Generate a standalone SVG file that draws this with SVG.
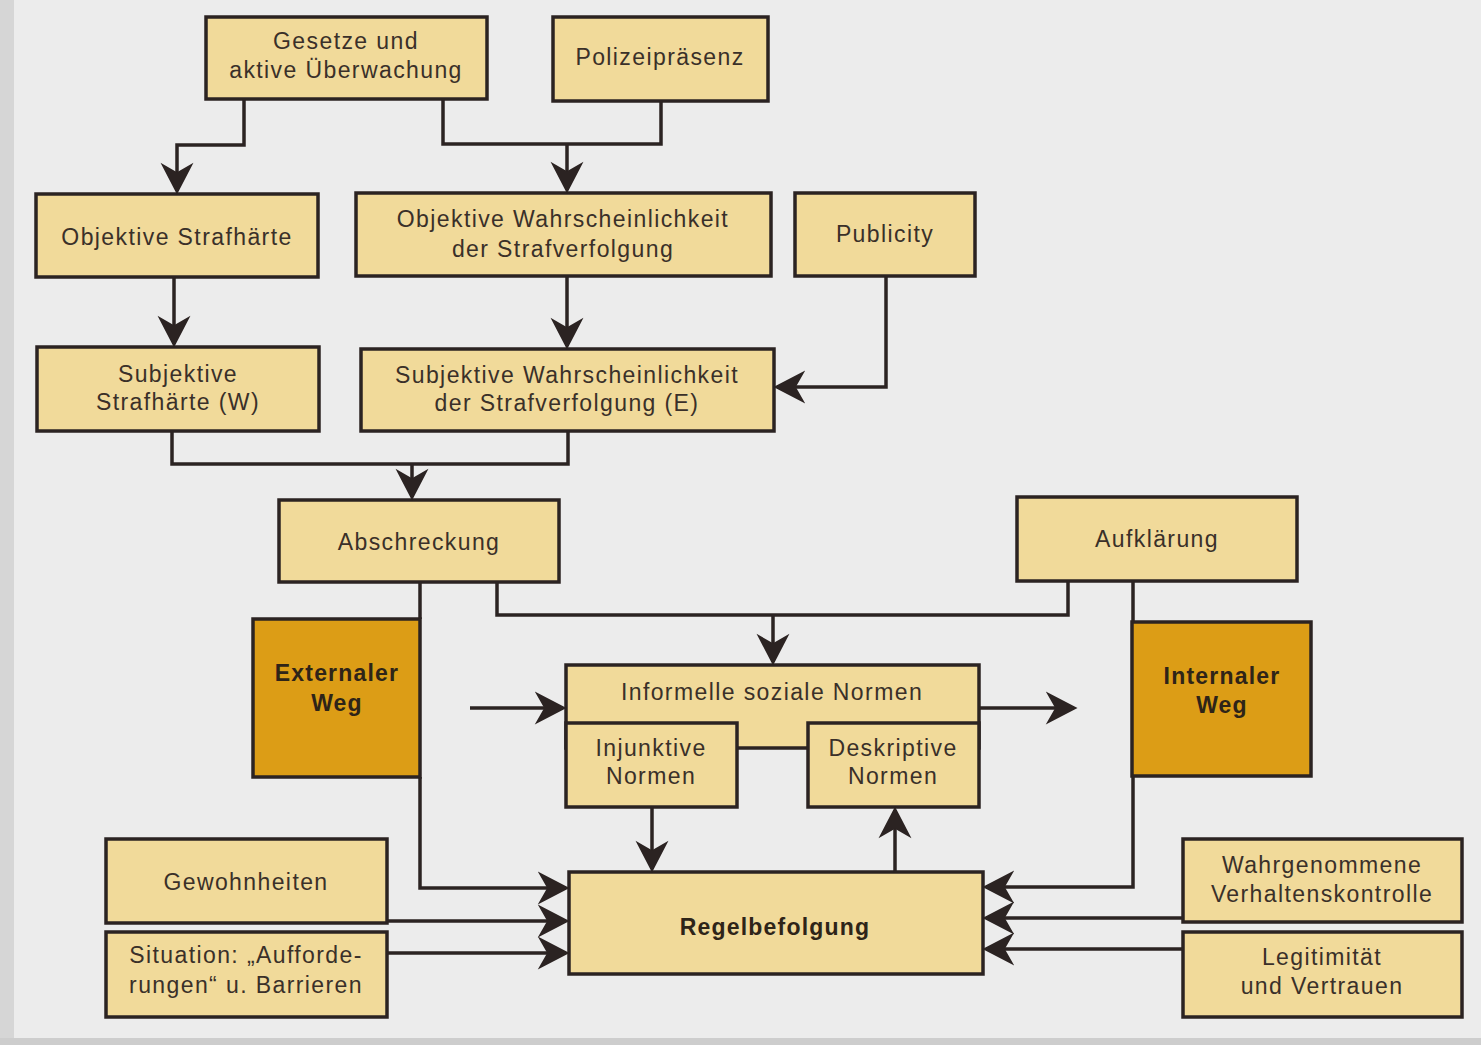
<svg xmlns="http://www.w3.org/2000/svg" width="1481" height="1045" viewBox="0 0 1481 1045">
<defs>
<style>
.box{fill:#f1da9a;stroke:#2b2322;stroke-width:3.5}
.org{fill:#dc9d16;stroke:#2b2322;stroke-width:3.5}
.t{font-family:"Liberation Sans",Arial,sans-serif;font-size:23px;fill:#3a3029;text-anchor:middle;letter-spacing:1.4px}
.b{font-weight:bold;fill:#2e2418;letter-spacing:1.2px}
.c{fill:none;stroke:#2b2322;stroke-width:3.5;stroke-linejoin:miter}
.a{marker-end:url(#arr)}
</style>
<marker id="arr" markerUnits="userSpaceOnUse" markerWidth="40" markerHeight="40" viewBox="-30 -16 34 32" refX="0" refY="0" orient="auto">
<path d="M3,0 L-24,-14 L-16,0 L-24,14 Z" fill="#2b2322"/>
</marker>
</defs>
<rect x="0" y="0" width="1481" height="1045" fill="#ececec"/>
<rect x="0" y="0" width="14" height="1045" fill="#d6d6d6"/>
<rect x="0" y="1038" width="1481" height="7" fill="#cdcdcd"/>

<g id="n-gesetze"><rect class="box" x="206" y="17" width="281" height="82"/><text class="t" x="346" y="49">Gesetze und</text><text class="t" x="346" y="78">aktive Überwachung</text></g>
<g id="n-polizei"><rect class="box" x="553" y="17" width="215" height="84"/><text class="t" x="660" y="65">Polizeipräsenz</text></g>
<g id="n-objstraf"><rect class="box" x="36" y="194" width="282" height="83"/><text class="t" x="177" y="245">Objektive Strafhärte</text></g>
<g id="n-objwahr"><rect class="box" x="356" y="193" width="415" height="83"/><text class="t" x="563" y="227">Objektive Wahrscheinlichkeit</text><text class="t" x="563" y="257">der Strafverfolgung</text></g>
<g id="n-publicity"><rect class="box" x="795" y="193" width="180" height="83"/><text class="t" x="885" y="242">Publicity</text></g>
<g id="n-subjstraf"><rect class="box" x="37" y="347" width="282" height="84"/><text class="t" x="178" y="382">Subjektive</text><text class="t" x="178" y="410">Strafhärte (W)</text></g>
<g id="n-subjwahr"><rect class="box" x="361" y="349" width="413" height="82"/><text class="t" x="567" y="383">Subjektive Wahrscheinlichkeit</text><text class="t" x="567" y="411">der Strafverfolgung (E)</text></g>
<g id="n-abschreckung"><rect class="box" x="279" y="500" width="280" height="82"/><text class="t" x="419" y="550">Abschreckung</text></g>
<g id="n-aufklaerung"><rect class="box" x="1017" y="497" width="280" height="84"/><text class="t" x="1157" y="547">Aufklärung</text></g>
<g id="n-external"><rect class="org" x="253" y="619" width="167" height="158"/><text class="t b" x="337" y="681">Externaler</text><text class="t b" x="337" y="711">Weg</text></g>
<g id="n-internal"><rect class="org" x="1132" y="622" width="179" height="154"/><text class="t b" x="1222" y="684">Internaler</text><text class="t b" x="1222" y="713">Weg</text></g>
<g id="n-informelle"><rect class="box" x="566" y="665" width="413" height="83"/><text class="t" x="772" y="700">Informelle soziale Normen</text></g>
<g id="n-injunktiv"><rect class="box" x="566" y="723" width="171" height="84"/><text class="t" x="651" y="756">Injunktive</text><text class="t" x="651" y="784">Normen</text></g>
<g id="n-deskriptiv"><rect class="box" x="808" y="723" width="171" height="84"/><text class="t" x="893" y="756">Deskriptive</text><text class="t" x="893" y="784">Normen</text></g>
<g id="n-regel"><rect class="box" x="569" y="872" width="414" height="102"/><text class="t b" x="775" y="935">Regelbefolgung</text></g>
<g id="n-gewohn"><rect class="box" x="106" y="839" width="281" height="84"/><text class="t" x="246" y="890">Gewohnheiten</text></g>
<g id="n-situation"><rect class="box" x="106" y="932" width="281" height="85"/><text class="t" x="246" y="963">Situation: „Aufforde-</text><text class="t" x="246" y="993">rungen“ u. Barrieren</text></g>
<g id="n-wahrgen"><rect class="box" x="1183" y="839" width="279" height="83"/><text class="t" x="1322" y="873">Wahrgenommene</text><text class="t" x="1322" y="902">Verhaltenskontrolle</text></g>
<g id="n-legit"><rect class="box" x="1183" y="932" width="279" height="85"/><text class="t" x="1322" y="965">Legitimität</text><text class="t" x="1322" y="994">und Vertrauen</text></g>

<g id="connectors">
<path class="c a" d="M244,99 V145 H177 V191"/>
<path class="c" d="M443,99 V144 H661 V101"/>
<path class="c a" d="M567,144 V190"/>
<path class="c a" d="M174,277 V344"/>
<path class="c a" d="M567,276 V346"/>
<path class="c a" d="M886,276 V387 H777"/>
<path class="c" d="M172,431 V464 H568 V431"/>
<path class="c a" d="M412,464 V497"/>
<path class="c" d="M497,582 V615 H1068 V581"/>
<path class="c a" d="M773,615 V662"/>
<path class="c" d="M420,582 V619"/>
<path class="c a" d="M420,777 V888 H566"/>
<path class="c a" d="M470,708 H563"/>
<path class="c a" d="M979,708 H1074"/>
<path class="c" d="M1133,581 V622"/>
<path class="c a" d="M1133,776 V887 H986"/>
<path class="c a" d="M387,921 H566"/>
<path class="c a" d="M387,953 H566"/>
<path class="c a" d="M1183,918 H986"/>
<path class="c a" d="M1183,949 H986"/>
<path class="c a" d="M652,807 V869"/>
<path class="c a" d="M895,872 V810"/>
</g>
</svg>
